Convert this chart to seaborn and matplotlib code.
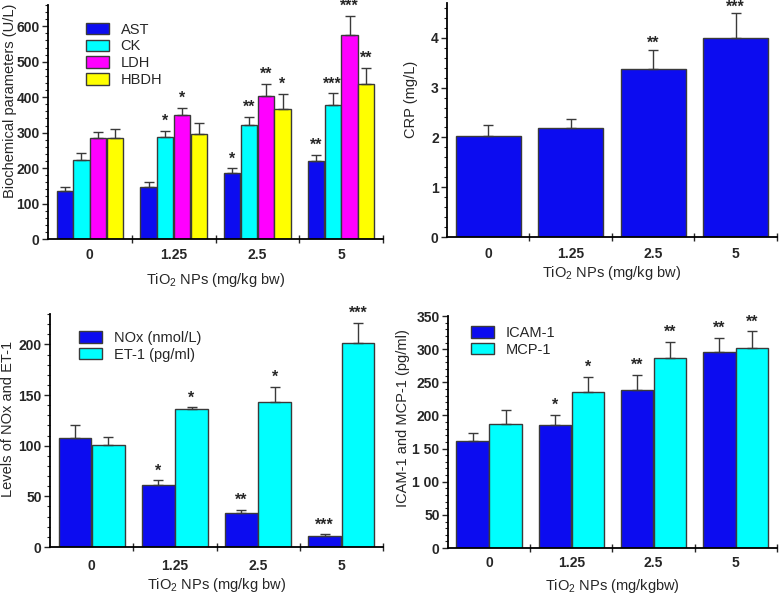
import matplotlib
matplotlib.use("Agg")
import matplotlib.pyplot as plt
from matplotlib.ticker import MultipleLocator
import seaborn as sns
import pandas as pd

sns.set_style("ticks")
plt.rcParams['font.family'] = ['Liberation Sans', 'DejaVu Sans']
plt.rcParams['mathtext.fontset'] = 'custom'
plt.rcParams['mathtext.rm'] = 'Liberation Sans'
plt.rcParams['mathtext.default'] = 'regular'

doses = ['0', '1.25', '2.5', '5']

# panel A - biochemical parameters (U/L)
ast = [135, 148, 187, 221]
ast_err = [13, 13, 12, 16]
ck = [224, 289, 321, 378]
ck_err = [18, 17, 23, 33]
ldh = [286, 350, 404, 576]
ldh_err = [17, 20, 34, 53]
hbdh = [286, 296, 368, 436]
hbdh_err = [25, 32, 41, 47]
ast_sig = ['', '', '*', '**']
ck_sig = ['', '*', '**', '***']
ldh_sig = ['', '*', '**', '***']
hbdh_sig = ['', '', '*', '**']

# panel B - CRP (mg/L)
crp = [2.03, 2.18, 3.37, 3.99]
crp_err = [0.21, 0.19, 0.38, 0.50]
crp_sig = ['', '', '**', '***']

# panel C - NOx / ET-1
nox = [108, 61, 34, 11]
nox_err = [12, 5, 3, 1.5]
et1 = [101, 136, 143, 201]
et1_err = [8, 2, 15, 20]
nox_sig = ['', '*', '**', '***']
et1_sig = ['', '*', '*', '***']

# panel D - ICAM-1 / MCP-1 (pg/ml)
icam = [161, 185, 239, 295]
icam_err = [13, 16, 22, 22]
mcp = [187, 236, 286, 301]
mcp_err = [21, 22, 25, 26]
icam_sig = ['', '*', '**', '**']
mcp_sig = ['', '*', '**', '**']
icam_yticklabels = ['0', '50', '1 00', '1 50', '200', '250', '300', '350']

BLUE = '#0c0cf0'
CYAN = '#00ffff'
MAGENTA = '#ff00ff'
YELLOW = '#ffff00'
EDGE = '#3a3a3a'


def long_df(names, series):
    rows = []
    for name, vals in zip(names, series):
        for d, v in zip(doses, vals):
            rows.append({'dose': d, 'param': name, 'value': v})
    return pd.DataFrame(rows)


def style_axis(ax, ymax, major, minor, tickpad):
    ax.set_xlim(-0.5, 3.5)
    ax.set_ylim(0, ymax)
    ax.yaxis.set_major_locator(MultipleLocator(major))
    ax.yaxis.set_minor_locator(MultipleLocator(minor))
    ax.set_xticks([0.5, 1.5, 2.5, 3.5], minor=True)
    ax.tick_params(axis='x', which='major', length=0, pad=tickpad, labelsize=10)
    ax.tick_params(axis='x', which='minor', length=6, direction='inout', width=1.0)
    ax.tick_params(axis='y', which='major', length=4, width=1.0, labelsize=10, pad=2)
    ax.tick_params(axis='y', which='minor', length=2.5, width=0.8)
    for lab in ax.get_xticklabels() + ax.get_yticklabels():
        lab.set_fontweight('bold')
    sns.despine(ax=ax)
    for sp in ['left', 'bottom']:
        ax.spines[sp].set_linewidth(1.3)
        ax.spines[sp].set_color('black')


def add_err(ax, cont, err, sig, off=3.5):
    for bar, e, s in zip(cont, err, sig):
        x = bar.get_x() + bar.get_width() / 2
        h = bar.get_height()
        ax.errorbar(x, h, yerr=[[0], [e]], fmt='none', ecolor=EDGE,
                    elinewidth=1.0, capsize=3.8, capthick=1.0)
        if s:
            ax.annotate(s, (x, h + e), xytext=(0, off), textcoords='offset points',
                        ha='center', va='baseline', fontsize=11.5, fontweight='bold')


def draw(ax, names, series, errs, sigs, colors, ymax, major, minor, tickpad, legend_anchor):
    df = long_df(names, series)
    sns.barplot(data=df, x='dose', y='value', hue='param', palette=colors,
                saturation=1, width=0.8, gap=0.02, edgecolor=EDGE, linewidth=1.0, ax=ax)
    for cont, err, sig in zip(ax.containers, errs, sigs):
        add_err(ax, cont, err, sig)
    style_axis(ax, ymax, major, minor, tickpad)
    ax.legend(loc='upper left', bbox_to_anchor=legend_anchor, frameon=False,
              fontsize=10.5, handlelength=1.6, handleheight=0.85,
              labelspacing=0.2, handletextpad=0.8, borderaxespad=0)


fig = plt.figure(figsize=(7.79, 5.94), dpi=100)

axA = fig.add_axes([0.0616, 0.5976, 0.4301, 0.394])
draw(axA, ['AST', 'CK', 'LDH', 'HBDH'], [ast, ck, ldh, hbdh],
     [ast_err, ck_err, ldh_err, hbdh_err], [ast_sig, ck_sig, ldh_sig, hbdh_sig],
     [BLUE, CYAN, MAGENTA, YELLOW], 660, 100, 20, 6.5, (0.095, 0.95))
axA.set_ylabel('Biochemical parameters (U/L)', fontsize=10.5)
axA.yaxis.set_label_coords(-0.0925, 0.59)
axA.set_xlabel('TiO$_2$ NPs (mg/kg bw)', fontsize=10.5, labelpad=6.5)

axB = fig.add_axes([0.5738, 0.601, 0.4236, 0.394])
dfB = pd.DataFrame({'dose': doses, 'value': crp})
sns.barplot(data=dfB, x='dose', y='value', color=BLUE, saturation=1, width=0.79,
            edgecolor=EDGE, linewidth=1.0, ax=axB)
add_err(axB, axB.containers[0], crp_err, crp_sig, off=1.5)
style_axis(axB, 4.7, 1, 0.2, 7)
axB.set_ylabel('CRP (mg/L)', fontsize=10.5)
axB.yaxis.set_label_coords(-0.088, 0.59)
axB.set_xlabel('TiO$_2$ NPs (mg/kg bw)', fontsize=10.5, labelpad=2)

axC = fig.add_axes([0.0642, 0.0791, 0.4275, 0.3923])
draw(axC, ['NOx (nmol/L)', 'ET-1 (pg/ml)'], [nox, et1], [nox_err, et1_err],
     [nox_sig, et1_sig], [BLUE, CYAN], 230, 50, 10, 8.5, (0.069, 0.953))
axC.set_ylabel('Levels of NOx and ET-1', fontsize=10.5)
axC.yaxis.set_label_coords(-0.105, 0.549)
axC.set_xlabel('TiO$_2$ NPs (mg/kg bw)', fontsize=10.5, labelpad=2)

axD = fig.add_axes([0.575, 0.0774, 0.4224, 0.3906])
draw(axD, ['ICAM-1', 'MCP-1'], [icam, mcp], [icam_err, mcp_err],
     [icam_sig, mcp_sig], [BLUE, CYAN], 350, 50, 10, 6, (0.052, 0.983))
axD.set_yticks(range(0, 351, 50))
axD.set_yticklabels(icam_yticklabels, fontweight='bold')
axD.set_ylabel('ICAM-1 and MCP-1 (pg/ml)', fontsize=10.5)
axD.yaxis.set_label_coords(-0.1155, 0.56)
axD.set_xlabel('TiO$_2$ NPs (mg/kgbw)', fontsize=10.5, labelpad=5)

fig.savefig('out.png', dpi=100)
